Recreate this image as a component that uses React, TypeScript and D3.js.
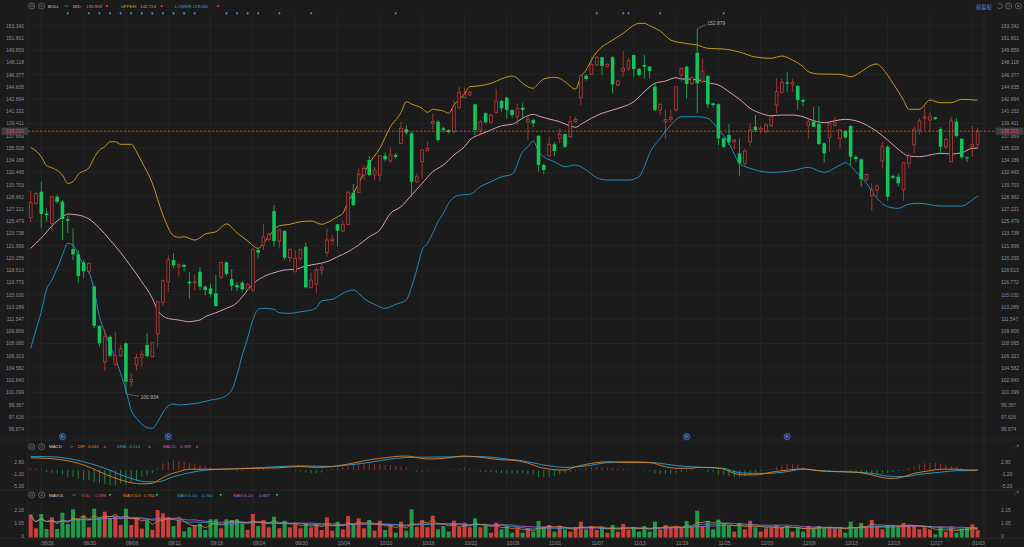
import React from "react";
import * as d3 from "d3";

// ---------- DATA ----------
const dateLabels = ["08/26","08/30","09/06","09/12","09/18","09/24","09/30","10/04","10/10","10/16","10/22","10/28","11/01","11/07","11/13","11/19","11/25","12/03","12/09","12/13","12/19","12/27","01/03"];

const open = [
125.98,128.03,129.69,126.6,125.18,128.97,128.26,125.79,121.52,120.77,
119.62,118.34,116.15,110.59,105.45,109.02,105.09,106.31,108.08,102.61,
104.99,106.08,107.84,106.17,109.41,113.92,116.86,119.95,119.0,119.28,
116.86,116.7,118.28,116.15,115.92,115.2,117.49,119.62,117.2,116.39,
116.72,115.77,115.67,121.38,122.09,122.9,126.93,122.66,124.09,120.28,
118.28,120.19,121.85,116.06,116.53,118.53,121.05,122.7,125.04,124.09,
125.04,129.54,129.54,132.07,134.2,132.07,132.07,134.82,134.06,134.92,
136.58,138.58,138.0,131.11,133.96,135.53,139.43,139.66,138.72,138.48,
138.24,141.66,143.08,143.46,142.14,138.48,140.86,139.58,141.0,142.61,
143.08,141.33,140.37,141.66,139.66,139.9,137.66,133.49,134.82,136.44,
137.29,137.9,137.52,139.66,143.08,146.22,146.41,147.74,148.84,147.5,
148.84,144.89,146.89,147.17,149.17,147.17,147.74,147.5,144.65,141.33,
139.66,140.0,141.33,146.32,147.5,145.13,149.5,145.36,146.17,142.28,
142.14,137.29,137.77,136.8,135.15,133.73,136.81,138.95,138.48,138.24,
139.09,142.04,143.85,145.27,144.99,144.75,142.75,139.09,139.66,139.33,
136.58,137.43,139.19,137.29,138.34,139.05,134.67,134.3,131.45,129.12,
129.93,134.06,136.1,131.92,131.82,129.93,133.73,136.34,138.48,140.14,
139.9,140.29,138.62,136.1,133.96,139.66,137.24,134.59,136.1,136.44];

const high = [
129.78,129.6,131.11,127.32,129.0,129.32,128.5,126.3,124.47,121.38,
119.95,119.6,116.4,110.6,109.98,109.2,109.73,107.84,108.31,103.8,
106.65,107.0,109.5,108.3,114.15,117.2,120.66,120.9,119.5,119.3,
118.2,117.9,118.99,116.4,116.6,117.81,119.7,119.7,118.67,116.8,
117.0,116.7,121.6,121.6,125.04,123.8,127.79,124.3,124.23,121.6,
121.38,121.5,122.42,118.2,118.99,119.57,124.47,123.5,125.1,125.6,
129.8,130.78,133.02,133.49,134.77,133.2,134.92,135.3,135.87,135.2,
139.66,139.19,138.2,132.2,135.7,136.81,140.86,139.9,139.0,138.6,
142.75,144.65,144.5,144.1,142.2,139.9,141.0,140.8,144.32,142.8,
143.2,141.5,142.28,142.3,140.6,140.1,137.7,133.7,137.52,136.8,
138.72,138.0,140.47,140.4,146.32,146.4,148.92,149.0,148.9,148.0,
149.0,145.6,149.74,148.7,149.2,147.3,149.17,147.6,145.1,142.3,
141.43,141.4,144.7,147.4,147.6,146.1,152.879,148.7,146.3,142.4,
142.3,137.4,139.33,137.2,137.29,135.8,139.43,140.61,139.1,139.5,
140.6,145.85,145.85,146.79,145.8,144.9,143.0,140.14,141.8,141.9,
136.7,139.66,140.37,138.6,138.5,139.19,134.9,134.4,132.3,130.88,
130.7,136.81,136.34,132.1,132.3,133.96,135.15,139.05,140.14,141.8,
141.1,140.4,138.9,137.4,140.37,140.14,137.3,134.7,139.05,138.8];

const low = [
125.32,127.9,124.47,125.41,124.08,128.0,122.8,123.8,119.95,116.72,
117.39,118.0,110.22,107.6,104.18,106.13,104.75,106.17,100.934,101.9,
104.27,104.75,106.1,106.1,107.5,113.44,115.43,118.77,117.57,118.3,
114.49,115.6,115.68,114.96,114.72,113.3,117.2,117.7,115.53,115.5,
115.3,115.6,115.43,120.2,121.38,122.6,121.85,121.6,119.95,119.7,
118.2,119.8,115.9,115.9,115.2,117.81,120.42,122.1,121.85,123.9,
124.9,127.65,129.45,131.35,131.9,131.35,131.11,134.0,133.87,134.4,
136.48,137.8,128.97,130.9,131.59,135.4,138.48,136.81,138.2,138.0,
138.0,141.4,143.0,143.3,137.77,137.7,139.4,139.4,140.86,141.09,
140.14,140.2,139.19,140.1,137.05,138.9,132.54,132.17,134.67,134.8,
136.58,135.9,137.4,139.5,142.04,145.5,146.32,147.6,146.32,147.3,
143.7,144.7,146.07,146.9,145.99,146.1,145.85,145.85,141.2,140.61,
137.29,139.5,141.09,145.36,142.99,144.9,140.86,145.13,141.57,141.7,
136.34,135.9,136.34,135.73,131.92,133.4,136.1,138.2,138.0,138.0,
138.9,140.86,143.7,143.94,143.9,141.33,141.9,137.29,138.9,136.34,
133.82,135.39,138.95,135.87,137.2,133.49,133.9,130.4,131.2,126.98,
129.0,133.02,128.4,131.5,130.4,128.4,133.02,135.15,137.77,138.48,
138.2,139.9,135.05,135.8,133.9,137.43,134.3,133.96,134.67,135.77];

const close = [
128.17,129.45,126.51,126.36,128.97,128.26,125.79,125.55,120.77,117.67,
118.34,119.48,110.59,108.08,109.02,106.31,106.31,107.27,102.61,102.95,
106.08,106.51,106.27,108.17,114.01,117.0,119.95,119.2,119.28,119.0,
116.63,116.86,116.15,115.68,115.1,113.39,119.62,117.96,116.29,116.06,
115.77,116.49,121.48,121.0,123.27,123.6,122.66,124.23,120.28,121.48,
120.19,121.48,116.06,117.1,118.53,118.91,122.8,122.95,124.13,125.04,
129.6,127.79,132.16,133.02,132.07,132.78,134.82,134.3,134.92,134.67,
138.72,138.09,131.11,131.82,135.63,135.87,139.66,137.05,138.48,138.15,
141.8,143.85,143.56,143.8,138.48,139.66,139.58,140.61,142.65,141.57,
141.33,140.61,141.57,141.33,140.0,139.43,133.49,132.78,136.44,135.49,
137.9,136.1,139.66,140.0,146.22,145.75,147.84,148.84,147.6,147.84,
144.99,145.46,147.27,148.35,147.17,146.32,147.5,146.89,141.33,142.14,
140.0,140.29,144.65,147.27,145.03,145.93,145.13,146.89,142.14,142.04,
137.29,136.1,136.73,137.05,133.73,135.49,138.48,138.48,138.72,139.19,
140.37,143.94,145.27,145.08,145.27,142.75,142.51,139.66,138.95,136.48,
135.15,139.43,139.52,138.48,137.43,134.67,134.34,131.45,132.16,129.93,
130.54,136.1,128.97,131.68,130.88,133.82,134.77,138.58,139.76,140.37,
140.37,140.04,136.1,137.15,139.76,137.62,134.59,134.44,136.44,138.31];

const volume = [
1.9,0.77,1.96,0.71,1.68,0.71,2.07,1.13,2.35,1.52,
1.85,0.85,2.4,1.6,2.15,1.6,1.79,1.04,2.4,1.04,
1.68,0.75,1.43,0.63,2.29,2.01,1.68,0.96,1.52,0.5,
0.85,1.04,1.13,0.63,1.52,1.52,0.77,1.52,1.46,1.52,
1.18,0.63,1.96,0.96,1.46,0.85,1.73,0.77,1.4,0.85,
1.13,0.77,1.18,0.85,1.13,0.63,1.68,0.57,1.32,0.68,
1.79,1.13,1.6,0.77,1.46,0.57,1.4,0.63,1.04,0.4,
1.32,0.57,2.35,0.9,1.46,0.85,1.82,0.68,0.96,0.49,
1.4,0.85,1.24,0.85,1.6,0.85,0.96,0.4,1.24,0.68,
0.96,0.4,0.77,0.4,0.77,0.49,1.38,0.9,1.04,0.49,
0.96,0.68,0.49,0.85,1.32,0.68,0.96,0.63,0.85,0.4,
1.04,0.49,1.13,0.63,0.85,0.49,0.96,0.49,1.32,0.68,
1.04,0.8,0.9,0.85,1.38,0.85,2.23,0.96,1.38,0.68,
1.49,1.21,0.96,0.49,1.21,0.68,1.4,0.85,0.49,0.77,
0.85,1.04,0.85,0.96,0.49,0.85,0.49,0.96,0.77,0.96,
0.77,0.85,0.77,0.77,0.4,1.32,0.77,1.21,0.85,1.46,
0.96,0.68,1.04,0.96,0.85,1.21,1.04,0.96,0.68,0.85,
0.68,0.26,0.85,0.49,0.85,0.4,0.75,0.8,1.1,0.598];

const macdHist = [
0.6,0.5,0.2,-0.7,-0.9,-1.1,-1.4,-2.2,-2.2,-2.8,
-3.3,-3.3,-3.9,-4.4,-4.7,-5.0,-5.0,-4.4,-4.7,-3.9,
-3.5,-2.2,-1.7,-1.1,0.5,2.2,2.8,3.3,3.1,2.8,
2.4,2.2,1.7,1.3,0.9,0.5,0.3,-0.2,0.2,-0.3,
-0.2,0.2,0.3,0.3,0.4,0.3,0.3,0.2,0.1,-0.2,
-0.3,-0.5,-0.8,-1.0,-1.1,-0.8,-0.3,0.5,0.9,1.1,
1.3,1.7,2.0,2.0,2.2,2.0,2.0,1.7,1.7,1.3,
1.3,1.1,0.1,-0.5,-0.5,-0.3,0.05,-0.2,0.2,0.1,
0.3,0.5,0.6,0.4,-0.2,-0.5,-0.6,-0.7,-0.9,-1.0,
-1.1,-1.1,-1.1,-1.0,-1.3,-1.5,-2.4,-2.4,-2.2,-2.0,
-1.5,-1.0,-0.6,-0.3,0.3,0.8,1.0,1.1,1.0,0.9,
0.7,0.5,0.4,0.3,0.2,0.05,-0.2,-0.4,-1.1,-1.3,
-1.3,-1.1,-0.9,-0.6,-0.4,-0.2,0.1,-0.1,-0.6,-0.6,
-1.3,-1.7,-2.0,-2.3,-2.4,-2.0,-1.5,-0.9,-0.3,0.05,
0.3,1.0,1.6,2.0,2.0,1.7,1.1,0.5,0.05,-0.1,
-0.3,-0.3,-0.2,-0.2,-0.2,-0.4,-0.6,-0.8,-1.0,-1.3,
-1.3,-1.1,-0.9,-0.6,-0.3,0.05,0.6,1.3,1.9,2.3,
2.4,2.4,2.1,1.8,1.5,1.1,0.8,0.5,0.4,0.289];

const difPts: [number, number][] = [[0,4.1],[3,3.9],[6,3.4],[10,1.7],[13,-0.5],[16,-2.7],[19,-4.2],[21,-4.6],[23,-4.4],[24,-3.5],[26,-1.6],[28,-0.5],[30,0.3],[35,0.3],[38,0.4],[43,0.6],[47,0.8],[51,1.2],[54,0.9],[57,1.2],[60,2.0],[63,3.1],[66,3.9],[71,4.7],[75,3.7],[78,3.9],[82,4.7],[84,4.5],[88,3.6],[92,3.1],[94,2.3],[97,0.6],[101,0],[103,1.1],[107,2.5],[109,2.8],[113,2.5],[117,2.5],[120,1.1],[122,0.6],[125,0.6],[126,0.9],[128,0.9],[131,0.3],[133,-1.1],[135,-1.6],[137,-1.6],[140,-0.7],[143,0],[146,0.4],[149,-0.2],[152,-0.5],[156,-0.7],[159,-1.6],[161,-2.5],[163,-2.8],[165,-2.2],[167,-1.1],[170,-0.2],[172,0.3],[175,0.3],[177,0],[179,0.031]];

const deaPts: [number, number][] = [[0,4.5],[3,4.5],[10,2.8],[14,0.6],[18,-2.2],[22,-3.9],[24,-3.9],[27,-2.2],[30,-0.9],[33,0],[38,0.4],[44,0.9],[51,1.4],[57,1.2],[60,1.7],[63,2.3],[69,3.9],[73,4.3],[75,4.3],[82,4.5],[85,4.5],[90,3.7],[93,3.1],[97,1.7],[101,0.9],[105,1.4],[109,2.5],[113,2.8],[117,2.6],[120,2.0],[122,1.5],[125,1.1],[127,0.9],[131,0.6],[133,-0.5],[136,-1.1],[139,-1.1],[143,-0.5],[146,0.3],[149,-0.2],[153,-0.5],[159,-1.1],[162,-2.0],[165,-2.2],[168,-1.4],[172,-0.7],[175,-0.2],[179,-0.114]];

const bollUpper: [number, number][] = [[0,136.01],[2,134.67],[3,133.39],[4,133.1],[6,132.06],[7,130.88],[8,131.11],[9,132.16],[11,133.1],[12,134.53],[13,135.63],[14,136.1],[15,136.81],[16,136.81],[17,136.44],[19,136.44],[20,135.39],[21,133.96],[23,130.88],[25,126.36],[27,123.41],[28,123.19],[29,123.27],[31,122.8],[32,123.13],[33,123.66],[35,123.98],[37,125.08],[39,123.84],[41,122.66],[43,121.62],[44,122.33],[46,124.23],[47,124.84],[49,125.04],[51,125.41],[53,125.51],[55,125.04],[56,125.27],[58,126.12],[59,126.6],[60,128.26],[61,129.45],[62,130.88],[64,133.73],[66,135.87],[68,138.95],[70,140.94],[71,142.51],[72,142.18],[74,141.57],[75,141.0],[76,141.43],[77,141.33],[78,141.19],[79,140.86],[80,142.04],[82,143.61],[83,144.65],[85,144.79],[87,145.13],[89,145.75],[91,146.17],[92,145.85],[93,145.13],[95,144.42],[96,145.13],[97,145.75],[99,145.99],[100,145.85],[101,145.36],[103,144.32],[104,146.07],[105,147.03],[106,148.45],[108,150.35],[109,150.83],[110,151.3],[112,152.26],[113,152.87],[115,153.68],[116,153.68],[117,153.34],[119,152.59],[121,151.3],[123,150.92],[125,150.69],[126,150.59],[128,150.12],[131,150.02],[134,149.59],[137,148.88],[140,148.7],[142,149.02],[144,148.45],[146,147.5],[147,146.79],[149,146.46],[153,146.42],[155,146.07],[157,146.79],[159,147.74],[160,147.88],[161,147.27],[163,145.13],[165,142.75],[166,141.43],[168,141.43],[170,142.75],[172,142.37],[174,142.37],[176,142.85],[179,142.724]];

const bollMid: [number, number][] = [[0,121.62],[2,123.09],[4,124.8],[6,126.08],[7,126.5],[9,126.36],[11,125.8],[13,124.51],[15,122.8],[17,121.02],[19,119.0],[21,116.86],[23,114.49],[24,112.83],[25,111.97],[26,111.64],[28,111.4],[30,111.16],[31,111.26],[32,111.4],[33,111.87],[35,112.44],[37,113.07],[39,113.87],[40,114.72],[42,116.53],[44,117.57],[46,118.14],[48,118.53],[50,118.63],[52,119.1],[54,119.38],[56,119.71],[58,120.42],[60,121.13],[62,122.09],[64,123.27],[66,124.23],[68,126.6],[70,127.55],[72,129.21],[74,130.88],[76,132.54],[78,133.49],[80,134.91],[82,136.1],[83,137.05],[85,137.86],[87,138.48],[89,139.09],[91,139.29],[93,140.15],[94,140.52],[95,140.71],[96,140.47],[98,140.04],[100,139.66],[102,139.05],[103,138.86],[104,139.29],[106,140.15],[108,140.86],[110,141.33],[112,141.8],[114,142.51],[116,143.94],[118,145.13],[120,145.46],[122,145.93],[123,145.75],[125,145.7],[127,145.5],[128,145.22],[130,144.89],[132,143.94],[134,142.85],[136,141.57],[138,140.86],[140,140.52],[142,140.61],[144,140.61],[146,140.37],[148,139.8],[150,139.52],[152,139.8],[154,140.0],[156,139.8],[158,139.19],[160,138.24],[162,137.05],[164,135.73],[166,134.77],[168,134.67],[170,134.92],[172,135.16],[174,135.06],[176,135.24],[178,135.87],[179,135.903]];

const bollLower: [number, number][] = [[0,107.37],[1,109.98],[2,112.58],[3,115.78],[4,117.1],[5,118.77],[6,120.66],[7,122.33],[8,122.09],[9,120.66],[10,119.24],[11,118.28],[12,115.68],[13,111.87],[14,109.73],[15,107.84],[16,105.94],[17,103.8],[18,101.42],[19,98.57],[20,97.39],[21,96.58],[22,96.05],[23,95.97],[24,96.91],[25,98.19],[26,99.19],[27,99.43],[28,99.29],[30,99.43],[32,99.62],[34,100.0],[36,100.29],[38,101.42],[39,103.56],[40,106.41],[41,108.84],[42,111.4],[43,112.93],[44,113.07],[46,112.93],[47,112.44],[49,112.36],[51,112.58],[53,112.83],[54,113.15],[55,114.15],[57,114.35],[59,115.2],[61,115.68],[62,115.2],[63,114.49],[65,113.64],[67,113.07],[69,113.64],[71,114.25],[72,116.15],[73,118.63],[74,121.38],[75,122.33],[76,123.76],[77,125.41],[78,126.61],[79,128.03],[81,129.21],[83,129.31],[85,130.4],[87,131.11],[89,131.82],[91,132.16],[93,135.39],[94,136.1],[95,136.91],[96,135.39],[97,134.67],[99,133.96],[101,133.25],[103,133.49],[105,132.78],[107,131.68],[109,131.35],[111,131.35],[113,131.35],[115,131.82],[116,133.25],[117,135.16],[119,137.29],[121,139.19],[123,140.37],[125,140.37],[126,140.37],[128,140.14],[130,138.58],[132,136.58],[134,133.73],[136,133.02],[140,132.45],[144,132.68],[147,133.16],[150,132.45],[153,133.49],[154,133.82],[156,132.54],[158,130.88],[160,128.74],[162,127.55],[164,127.32],[166,127.93],[168,128.03],[172,127.65],[176,127.65],[178,128.5],[179,129.082]];

const priceTicks = ["153.342","151.601","149.859","148.118","146.377","144.635","142.894","141.152","139.411","137.669","135.928","134.186","132.445","130.703","128.962","127.221","125.479","123.738","121.996","120.255","118.513","116.772","115.030","113.289","111.547","109.806","108.065","106.323","104.582","102.840","101.099","99.357","97.616","95.874"];
const macdTicks = ["2.80","-1.20","-5.20"];
const volTicks = ["2.15","1.05","0"];

const topMarkers = [7,11,13,15,17,19,21,23,25,27,29,31,37,39,41,43,47,53,69,107,112,113,119,131];
const bottomMarkers = [6,26,124,143];

const lastPrice = 138.31;
const highMark: [number, number] = [126, 152.879];
const lowMark: [number, number] = [18, 100.934];

const bollLegend = { mid: "135.903", upper: "142.724", lower: "129.082" };
const macdLegend = { dif: "0.031", dea: "-0.114", macd: "0.289" };
const volLegend = { vol: "0.598", ma5: "0.760", ma10: "0.760", ma20: "0.887" };

// ---------- STYLE ----------
const BG = "#1b1b1b";
const GRID = "#272727";
const AXIS_TXT = "#8a8e96";
const RED = "#c23b3b";
const GREEN = "#14c45a";
const VRED = "#c9403d";
const VGREEN = "#22994a";
const C_MID = "#d8a3b8";
const C_UP = "#c69a1c";
const C_LOW = "#1f8fbd";
const C_DIF = "#e0842a";
const C_DEA = "#2c9fd2";
const C_M20 = "#b563d6";
const FONT = "'Liberation Sans', Arial, sans-serif";
const LEG_FS = 4.4;

const N = close.length;

function ma(arr: number[], n: number) {
  return arr.map((_, i) => d3.mean(arr.slice(Math.max(0, i - n + 1), i + 1)) as number);
}

function Tri({ x, y, up, color }: { x: number; y: number; up: boolean; color: string }) {
  const d = up
    ? `M${x - 1.4},${y + 1} L${x + 1.4},${y + 1} L${x},${y - 1.4} Z`
    : `M${x - 1.4},${y - 1} L${x + 1.4},${y - 1} L${x},${y + 1.4} Z`;
  return <path d={d} fill={color} />;
}

function Chevron({ x, y }: { x: number; y: number }) {
  return <path d={`M${x - 1.6},${y - 0.8} L${x},${y + 0.8} L${x + 1.6},${y - 0.8}`} stroke="#8a8a8a" strokeWidth={0.7} fill="none" />;
}

function Icons({ y }: { y: number }) {
  return (
    <g>
      <circle cx={31.6} cy={y} r={3} fill="none" stroke="#7a7a7a" strokeWidth={0.7} />
      <circle cx={31.6} cy={y} r={1.1} fill="none" stroke="#7a7a7a" strokeWidth={0.6} />
      <circle cx={41.6} cy={y} r={3} fill="none" stroke="#7a7a7a" strokeWidth={0.7} />
      <path d={`M${40.5},${y - 1.1} L${42.7},${y + 1.1} M${42.7},${y - 1.1} L${40.5},${y + 1.1}`} stroke="#7a7a7a" strokeWidth={0.6} />
    </g>
  );
}

function Leg({ x, y, fill, s }: { x: number; y: number; fill: string; s: string }) {
  return <text x={x} y={y} fontFamily={FONT} fontSize={LEG_FS} fill={fill} dominantBaseline="central">{s}</text>;
}

export default function App() {
  const W = 1024, H = 547;
  const plotL = 28, plotR = 984;
  const mainTop = 15, mainBot = 432;

  const x = d3.scaleLinear().domain([0, N - 1]).range([30.7, 977.6]);
  const yP = d3.scaleLinear().domain([95.874, 153.342]).range([429, 25.7]);
  const yM = d3.scaleLinear().domain([-5.2, 2.8]).range([485.7, 461.7]);
  const yV = d3.scaleLinear().domain([0, 2.15]).range([537.5, 511.7]);

  const pLine = d3.line<[number, number]>().x(d => x(d[0])).y(d => yP(d[1])).curve(d3.curveMonotoneX);
  const mLine = d3.line<[number, number]>().x(d => x(d[0])).y(d => yM(d[1])).curve(d3.curveMonotoneX);
  const vLine = d3.line<number>().x((_, i) => x(i)).y(d => yV(d)).curve(d3.curveMonotoneX);

  const ma5 = ma(volume, 5), ma10 = ma(volume, 10), ma20 = ma(volume, 20);
  const gridIdx = dateLabels.map((_, k) => 2 + 8 * k);

  const txt = (props: any, s: string) => (
    <text fontFamily={FONT} fontSize={5} dominantBaseline="central" {...props}>{s}</text>
  );

  const bw = 3.6;

  return (
    <svg width={W} height={H} style={{ position: "fixed", left: 0, top: 0, display: "block", background: BG }}>
      <rect x={0} y={0} width={W} height={H} fill={BG} />
      <defs>
        <clipPath id="mainClip"><rect x={plotL} y={mainTop} width={plotR - plotL} height={mainBot - mainTop} /></clipPath>
        <clipPath id="macdClip"><rect x={plotL} y={452} width={plotR - plotL} height={38} /></clipPath>
      </defs>

      {gridIdx.map((gi, k) => (
        <line key={"vg" + k} x1={x(gi)} x2={x(gi)} y1={mainTop} y2={538} stroke={GRID} strokeWidth={0.8} />
      ))}
      {priceTicks.filter((_, k) => k % 2 === 0).map((t, k) => (
        <line key={"hg" + k} x1={plotL} x2={plotR} y1={yP(+t)} y2={yP(+t)} stroke={GRID} strokeWidth={0.8} />
      ))}
      <line x1={0} x2={W} y1={440} y2={440} stroke="#2a2a2a" strokeWidth={0.8} />
      <line x1={0} x2={W} y1={490} y2={490} stroke="#2a2a2a" strokeWidth={0.8} />
      <line x1={0} x2={W} y1={538.5} y2={538.5} stroke="#2a2a2a" strokeWidth={0.8} />
      <line x1={plotL} x2={plotL} y1={mainTop} y2={538} stroke="#2a2a2a" strokeWidth={0.8} />
      <line x1={plotR} x2={plotR} y1={mainTop} y2={538} stroke="#2a2a2a" strokeWidth={0.8} />

      {priceTicks.map((t, k) => (
        <g key={"pt" + k}>
          {txt({ x: 24, y: yP(+t), textAnchor: "end", fill: AXIS_TXT }, t)}
          {txt({ x: 1001, y: yP(+t), textAnchor: "start", fill: AXIS_TXT }, t)}
        </g>
      ))}

      <g clipPath="url(#mainClip)" fill="none" strokeWidth={1}>
        <path d={pLine(bollUpper) || ""} stroke={C_UP} />
        <path d={pLine(bollMid) || ""} stroke={C_MID} />
        <path d={pLine(bollLower) || ""} stroke={C_LOW} />
      </g>

      <g clipPath="url(#mainClip)">
        {close.map((c, i) => {
          const o = open[i], h = high[i], l = low[i];
          const up = c >= o;
          const cx = x(i);
          const top = yP(Math.max(o, c));
          const bot = yP(Math.min(o, c));
          const bh = Math.max(bot - top, 1);
          if (up) {
            return (
              <g key={"c" + i} stroke={RED} strokeWidth={0.8} fill="none">
                <line x1={cx} x2={cx} y1={yP(h)} y2={top} />
                <line x1={cx} x2={cx} y1={top + bh} y2={yP(l)} />
                <rect x={cx - bw / 2 + 0.4} y={top} width={bw - 0.8} height={bh} fill={BG} />
              </g>
            );
          }
          return (
            <g key={"c" + i}>
              <line x1={cx} x2={cx} y1={yP(h)} y2={yP(l)} stroke={GREEN} strokeWidth={0.8} />
              <rect x={cx - bw / 2} y={top} width={bw} height={bh} fill={GREEN} />
            </g>
          );
        })}
      </g>

      <line x1={plotL} x2={996} y1={yP(lastPrice)} y2={yP(lastPrice)} stroke="#c8661e" strokeWidth={0.8} strokeDasharray="2.5 1.5" />
      <rect x={1.5} y={yP(lastPrice) - 3.6} width={26.5} height={7.2} fill="#3b3f46" />
      {txt({ x: 14.8, y: yP(lastPrice), textAnchor: "middle", fill: "#e24c4c" }, lastPrice.toFixed(3))}
      <rect x={995.5} y={yP(lastPrice) - 3.6} width={28} height={7.2} fill="#3b3f46" />
      {txt({ x: 1009.5, y: yP(lastPrice), textAnchor: "middle", fill: "#e24c4c" }, lastPrice.toFixed(3))}

      <line x1={x(highMark[0])} y1={yP(highMark[1])} x2={x(highMark[0]) + 9} y2={yP(highMark[1]) - 4.5} stroke="#8a8a8a" strokeWidth={0.6} />
      {txt({ x: x(highMark[0]) + 10, y: yP(highMark[1]) - 5.5, fill: "#b0b0b0" }, highMark[1].toFixed(3))}
      <line x1={x(lowMark[0])} y1={yP(lowMark[1])} x2={x(lowMark[0]) + 13} y2={yP(lowMark[1]) + 3} stroke="#8a8a8a" strokeWidth={0.6} />
      {txt({ x: x(lowMark[0]) + 14.5, y: yP(lowMark[1]) + 4, fill: "#b0b0b0" }, lowMark[1].toFixed(3))}

      {topMarkers.map((m, k) => (
        <circle key={"tm" + k} cx={x(m)} cy={13.3} r={1.1} fill="#4a8ee6" />
      ))}
      {bottomMarkers.map((m, k) => (
        <g key={"bm" + k}>
          <circle cx={x(m)} cy={436.6} r={3.1} fill="#1d3563" stroke="#4a7fdc" strokeWidth={0.7} />
          <text x={x(m)} y={436.8} fontFamily={FONT} fontSize={4} fill="#8fb4ff" textAnchor="middle" dominantBaseline="central">E</text>
        </g>
      ))}

      {/* top legend */}
      <Icons y={6} />
      <Leg x={48} y={6} fill="#d6d6d6" s="BOLL" />
      <Chevron x={66.5} y={6} />
      <Leg x={72.7} y={6} fill={C_MID} s="MID:" />
      <Leg x={86} y={6} fill="#e07896" s={bollLegend.mid} />
      <Tri x={107} y={6} up color="#e53935" />
      <Leg x={120.7} y={6} fill="#d9a021" s="UPPER:" />
      <Leg x={140} y={6} fill="#d9a021" s={bollLegend.upper} />
      <Tri x={161.7} y={6} up color="#e53935" />
      <Leg x={175} y={6} fill="#35a2dc" s="LOWER:" />
      <Leg x={192.5} y={6} fill="#35a2dc" s={bollLegend.lower} />
      <Tri x={218} y={6} up color="#e53935" />

      <text x={976} y={6} fontFamily="'Noto Sans CJK SC', sans-serif" fontSize={5.2} fill="#5b8ee8" dominantBaseline="central">前复权</text>
      <path d="M998.6,3.6 A2.6,2.6 0 1 1 997.6,7.6" stroke="#7a7a7a" strokeWidth={0.7} fill="none" />
      <circle cx={1008.6} cy={6} r={3} fill="none" stroke="#7a7a7a" strokeWidth={0.7} />
      <line x1={1007} x2={1010.2} y1={6} y2={6} stroke="#7a7a7a" strokeWidth={0.7} />
      <circle cx={1018.3} cy={6} r={3} fill="none" stroke="#7a7a7a" strokeWidth={0.7} />
      <circle cx={1018.3} cy={6} r={1} fill="#7a7a7a" />

      {/* MACD panel */}
      <Icons y={446.7} />
      <Leg x={49} y={446.7} fill="#d6d6d6" s="MACD" />
      <Chevron x={71.7} y={446.7} />
      <Leg x={77.7} y={446.7} fill={C_DIF} s="DIF:" />
      <Leg x={88} y={446.7} fill={C_DIF} s={macdLegend.dif} />
      <Tri x={105} y={446.7} up color="#e53935" />
      <Leg x={117} y={446.7} fill={C_DEA} s="DEA:" />
      <Leg x={128} y={446.7} fill={C_DEA} s={macdLegend.dea} />
      <Tri x={149.5} y={446.7} up color="#e53935" />
      <Leg x={162.7} y={446.7} fill="#c35cd8" s="MACD:" />
      <Leg x={180} y={446.7} fill="#c35cd8" s={macdLegend.macd} />
      <Tri x={197} y={446.7} up color="#e53935" />
      <path d="M1015,448.5 L1018.5,445 M1016.5,445 L1018.5,445 L1018.5,447" stroke="#7a7a7a" strokeWidth={0.6} fill="none" />

      {macdTicks.map((t, k) => (
        <g key={"mt" + k}>
          {txt({ x: 24, y: yM(+t), textAnchor: "end", fill: AXIS_TXT }, t)}
          {txt({ x: 1001, y: yM(+t), textAnchor: "start", fill: AXIS_TXT }, t)}
        </g>
      ))}
      <g clipPath="url(#macdClip)">
        {macdHist.map((v, i) => (
          <rect key={"mh" + i} x={x(i) - 0.5} width={1} y={Math.min(yM(v), yM(0))} height={Math.max(Math.abs(yM(v) - yM(0)), 0.4)} fill={v >= 0 ? "#9a2f2f" : "#1f8140"} />
        ))}
        <path d={mLine(deaPts) || ""} stroke={C_DEA} strokeWidth={0.9} fill="none" />
        <path d={mLine(difPts) || ""} stroke={C_DIF} strokeWidth={0.9} fill="none" />
      </g>

      {/* MAVOL panel */}
      <Icons y={495} />
      <Leg x={49} y={495} fill="#d6d6d6" s="MAVOL" />
      <Chevron x={74} y={495} />
      <Leg x={81} y={495} fill="#e0566a" s="VOL:" />
      <Leg x={95} y={495} fill="#e0566a" s={volLegend.vol} />
      <Tri x={110} y={495} up={false} color="#22c55e" />
      <Leg x={123} y={495} fill={C_DIF} s="MAVOL5:" />
      <Leg x={143.5} y={495} fill={C_DIF} s={volLegend.ma5} />
      <Tri x={157} y={495} up={false} color="#22c55e" />
      <Leg x={177} y={495} fill={C_DEA} s="MAVOL10:" />
      <Leg x={202} y={495} fill={C_DEA} s={volLegend.ma10} />
      <Tri x={220.7} y={495} up={false} color="#22c55e" />
      <Leg x={233} y={495} fill={C_M20} s="MAVOL20:" />
      <Leg x={259} y={495} fill={C_M20} s={volLegend.ma20} />
      <Tri x={277} y={495} up={false} color="#22c55e" />
      <path d="M1015,494.8 L1018.5,491.3 M1016.5,491.3 L1018.5,491.3 L1018.5,493.3" stroke="#7a7a7a" strokeWidth={0.6} fill="none" />

      {volTicks.map((t, k) => (
        <g key={"vt" + k}>
          <text x={24} y={yV(+t)} fontFamily={FONT} fontSize={5} textAnchor="end" fill={AXIS_TXT}>{t}</text>
          <text x={1001} y={yV(+t)} fontFamily={FONT} fontSize={5} textAnchor="start" fill={AXIS_TXT}>{t}</text>
        </g>
      ))}
      {volume.map((v, i) => {
        const up = close[i] >= open[i];
        return <rect key={"v" + i} x={x(i) - 2} width={4} y={yV(v)} height={yV(0) - yV(v)} fill={up ? VRED : VGREEN} />;
      })}
      <path d={vLine(ma20) || ""} stroke={C_M20} strokeWidth={0.8} fill="none" />
      <path d={vLine(ma10) || ""} stroke={C_DEA} strokeWidth={0.8} fill="none" />
      <path d={vLine(ma5) || ""} stroke={C_DIF} strokeWidth={0.8} fill="none" />

      {dateLabels.map((d, k) => (
        <text key={"d" + k} x={x(gridIdx[k])} y={542.5} fontFamily={FONT} fontSize={5} fill={AXIS_TXT} dominantBaseline="central">{d}</text>
      ))}
    </svg>
  );
}
